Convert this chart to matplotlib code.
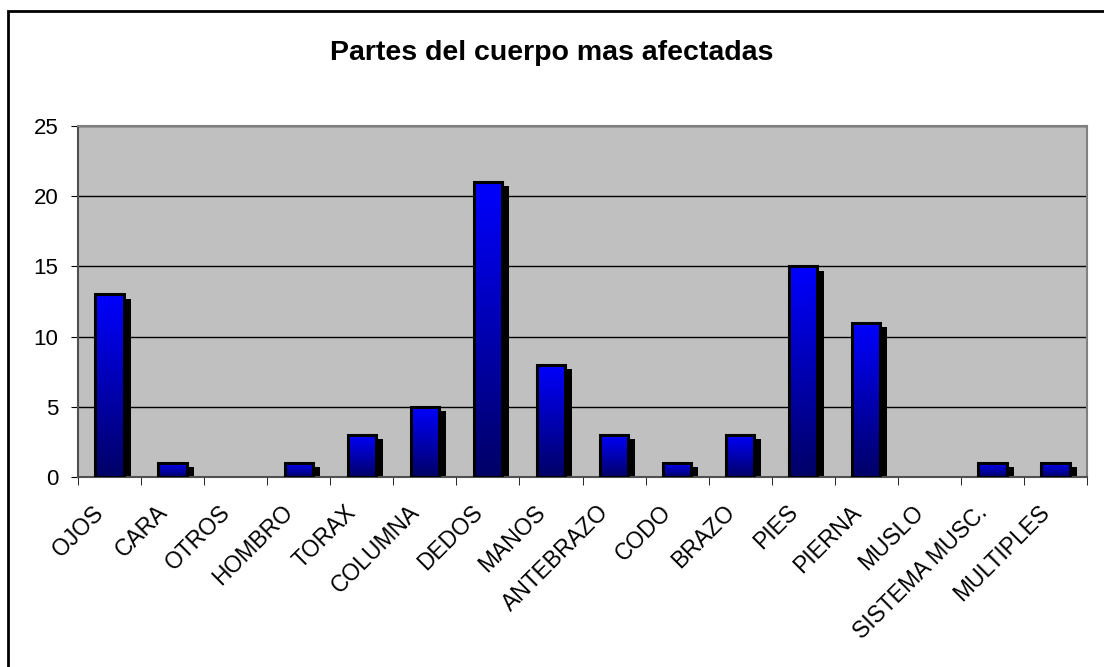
import numpy as np
import matplotlib
matplotlib.use('Agg')
import matplotlib.pyplot as plt
import matplotlib.patheffects as pe
from matplotlib.patches import Rectangle
from matplotlib.transforms import ScaledTranslation

plt.rcParams['font.family'] = ['Liberation Sans', 'DejaVu Sans']

# partes del cuerpo y numero de casos
partes = ['OJOS', 'CARA', 'OTROS', 'HOMBRO', 'TORAX', 'COLUMNA', 'DEDOS', 'MANOS',
          'ANTEBRAZO', 'CODO', 'BRAZO', 'PIES', 'PIERNA', 'MUSLO', 'SISTEMA MUSC.', 'MULTIPLES']
casos = [13, 1, 0, 1, 3, 5, 21, 8, 3, 1, 3, 15, 11, 0, 1, 1]

fig = plt.figure(figsize=(11.04, 6.67), dpi=100)
ax = fig.add_axes([78/1104, 1-477/667, (1087-78)/1104, (477-126)/667])
ax.set_facecolor('#C0C0C0')

x = np.arange(len(partes))
ancho = 0.45

# sombra negra + relleno base
base = ax.bar(x, casos, ancho, color='black', zorder=2,
              path_effects=[pe.SimplePatchShadow(offset=(5, -3), shadow_rgbFace='black', alpha=1),
                            pe.Normal()])

# degradado azul dentro de cada barra
grad = np.linspace(0, 1, 256).reshape(-1, 1)
cmap = matplotlib.colors.LinearSegmentedColormap.from_list('az', ['#000066', '#0000FF'])
for rect, v in zip(base, casos):
    if v == 0:
        continue
    x0 = rect.get_x()
    im = ax.imshow(grad, cmap=cmap, origin='lower', aspect='auto',
                   extent=[x0, x0 + ancho, 0, v], zorder=3)
    im.set_clip_path(rect)

ax.bar(x, casos, ancho, facecolor='none', edgecolor='black',
       linewidth=[2.2 if v > 0 else 0 for v in casos], zorder=4)

ax.set_xlim(-0.5, len(partes) - 0.5)
ax.set_ylim(0, 25)
ax.set_yticks(range(0, 26, 5))
ax.yaxis.grid(True, color='black', linewidth=1)
ax.set_axisbelow(True)

ax.set_xticks(x)
ax.set_xticklabels(partes, rotation=45, ha='right', va='center', rotation_mode='anchor', fontsize=16.5)
ax.set_xticks(np.arange(-0.5, len(partes), 1), minor=True)
ax.tick_params(axis='x', which='major', length=0, pad=23)
ax.tick_params(axis='x', which='minor', length=6, direction='out', color='black')
ax.tick_params(axis='y', length=5, direction='out', labelsize=16, color='black', pad=9)

desplazar = ScaledTranslation(-9/100, 0, fig.dpi_scale_trans)
for lab in ax.get_xticklabels():
    lab.set_transform(lab.get_transform() + desplazar)

for s in ['top', 'right']:
    ax.spines[s].set_color('#808080')
    ax.spines[s].set_linewidth(1.5)
for s in ['left', 'bottom']:
    ax.spines[s].set_color('#505050')
    ax.spines[s].set_linewidth(1.5)

fig.text(0.5, 1-53/667, 'Partes del cuerpo mas afectadas', ha='center', va='center',
         fontsize=20.5, fontweight='bold')

# marco exterior
fig.patches.append(Rectangle((8/1104, -0.05), 1.1, 1-11/667+0.05, transform=fig.transFigure,
                             fill=False, edgecolor='black', linewidth=2))

fig.savefig('out.png', dpi=100)
